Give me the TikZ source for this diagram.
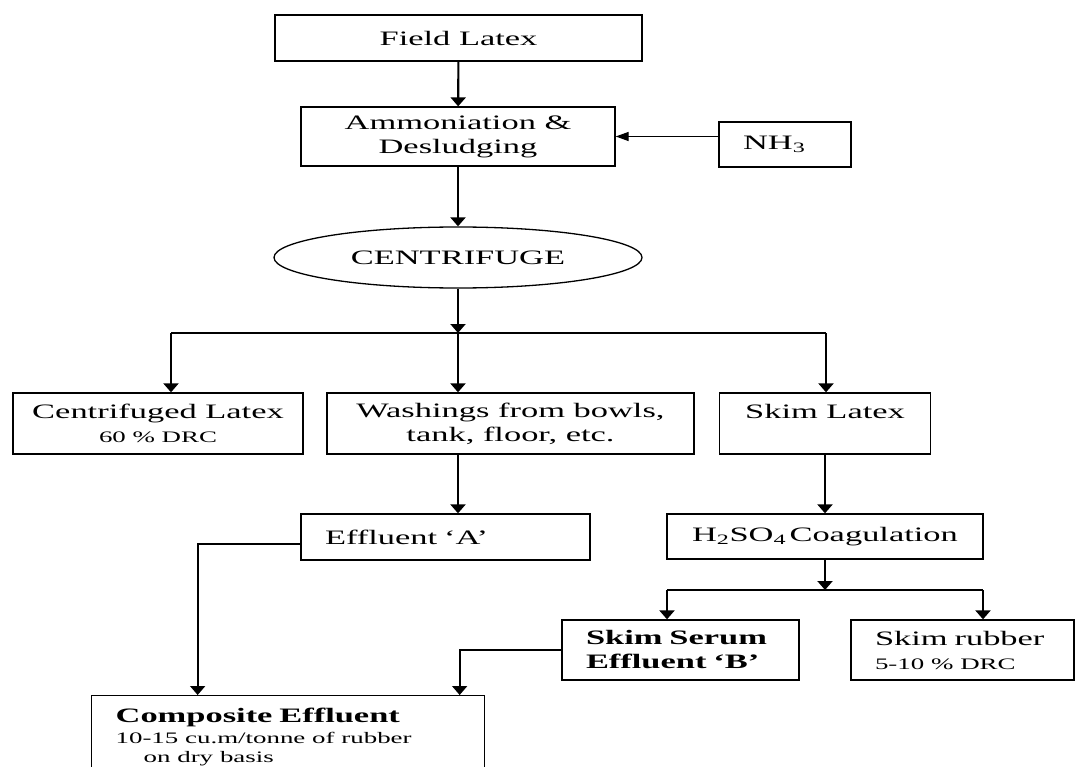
\documentclass[tikz,border=0pt]{standalone}
\usepackage{fontspec}
\setmainfont{Liberation Serif}[FakeStretch=1.68]
\usetikzlibrary{arrows.meta,shapes.geometric}
\tikzset{
  box/.style={draw, line width=1.3pt, inner sep=0pt, align=center, font=\fontsize{20.5}{24}\selectfont},
  lbox/.style={box, align=left, inner xsep=24pt},
  conn/.style={line width=1.4pt},
  arr/.style={line width=2.1pt, -{Triangle[length=9pt,width=15pt]}},
  elbow/.style={line width=1.7pt, -{Triangle[length=9pt,width=15pt]}},
  harr/.style={line width=1.3pt, -{Triangle[length=13pt,width=9pt]}}
}
\newcommand{\drc}[1]{{\fontsize{16}{19}\selectfont #1}}
\begin{document}
\begin{tikzpicture}[x=1pt,y=-1pt]
	\useasboundingbox (0,0) rectangle (1075,767);
	\clip (0,0) rectangle (1075,767);
	\node[box, minimum width=367pt, minimum height=46pt] (field) at (458.5,38) {Field Latex};
	\node[box, minimum width=314pt, minimum height=59pt] (ammon) at (458,136.5) {Ammoniation \&\\Desludging};
	\node[lbox, text width=84pt, minimum height=45pt] (nh3) at (785,144.5) {NH\textsubscript{3}};
	\node[box, ellipse, minimum width=368pt, minimum height=61pt] (cent) at (458,257.5) {CENTRIFUGE};
	\coordinate (j1) at (458,333);
	\coordinate (jl) at (171,333);
	\coordinate (jr) at (826,333);
	\node[box, minimum width=290pt, minimum height=61pt] (centri) at (158,423.5) {Centrifuged Latex\\\drc{60 \% DRC}};
	\node[box, minimum width=367pt, minimum height=61pt] (wash) at (510.5,423.5) {Washings from bowls,\\tank, floor, etc.};
	\node[box, minimum width=211pt, minimum height=61pt] (skim) at (825,423.5) {Skim Latex\\\mbox{}};
	\node[lbox, text width=241pt, minimum height=46pt] (effa) at (445.5,537) {Effluent `A'};
	\node[box, minimum width=316pt, minimum height=45pt] (acid) at (825,536.5) {H\textsubscript{2}SO\textsubscript{4}\,Coagulation};
	\coordinate (j2) at (825,590);
	\coordinate (j2l) at (667,590);
	\coordinate (j2r) at (983,590);
	\node[lbox, text width=189pt, minimum height=60pt] (serum) at (680.5,650) {\textbf{Skim Serum}\\\textbf{Effluent `B'}};
	\node[lbox, text width=175pt, minimum height=60pt] (rubber) at (962.5,650) {Skim rubber\\\drc{5-10 \% DRC}};
	\node[lbox, text width=345pt, inner ysep=12pt, anchor=north west] (comp) at (91,695) {\textbf{Composite Effluent}\\[-3pt]\drc{10-15 cu.m/tonne of rubber}\\[-5pt]\drc{\hspace*{28pt}on dry basis}\\\mbox{}};
	\draw[arr] (field) -- (ammon);
	\draw[harr] (nh3.west |- ammon.east) -- (ammon.east);
	\draw[arr] (ammon) -- (cent);
	\draw[arr] (cent) -- (j1);
	\draw[conn] (jl) -- (jr);
	\draw[arr] (jl) -- (jl |- centri.north);
	\draw[arr] (j1) -- (j1 |- wash.north);
	\draw[arr] (jr) -- (jr |- skim.north);
	\draw[arr] (j1 |- wash.south) -- (j1 |- effa.north);
	\draw[arr] (skim) -- (acid);
	\draw[arr] (acid) -- (j2);
	\draw[conn] (j2l) -- (j2r);
	\draw[arr] (j2l) -- (j2l |- serum.north);
	\draw[arr] (j2r) -- (j2r |- rubber.north);
	\draw[elbow] ([yshift=-7pt]effa.west) -| ([xshift=-90.5pt]comp.north);
	\draw[elbow] (serum.west) -| ([xshift=171.5pt]comp.north);
\end{tikzpicture}
\end{document}
